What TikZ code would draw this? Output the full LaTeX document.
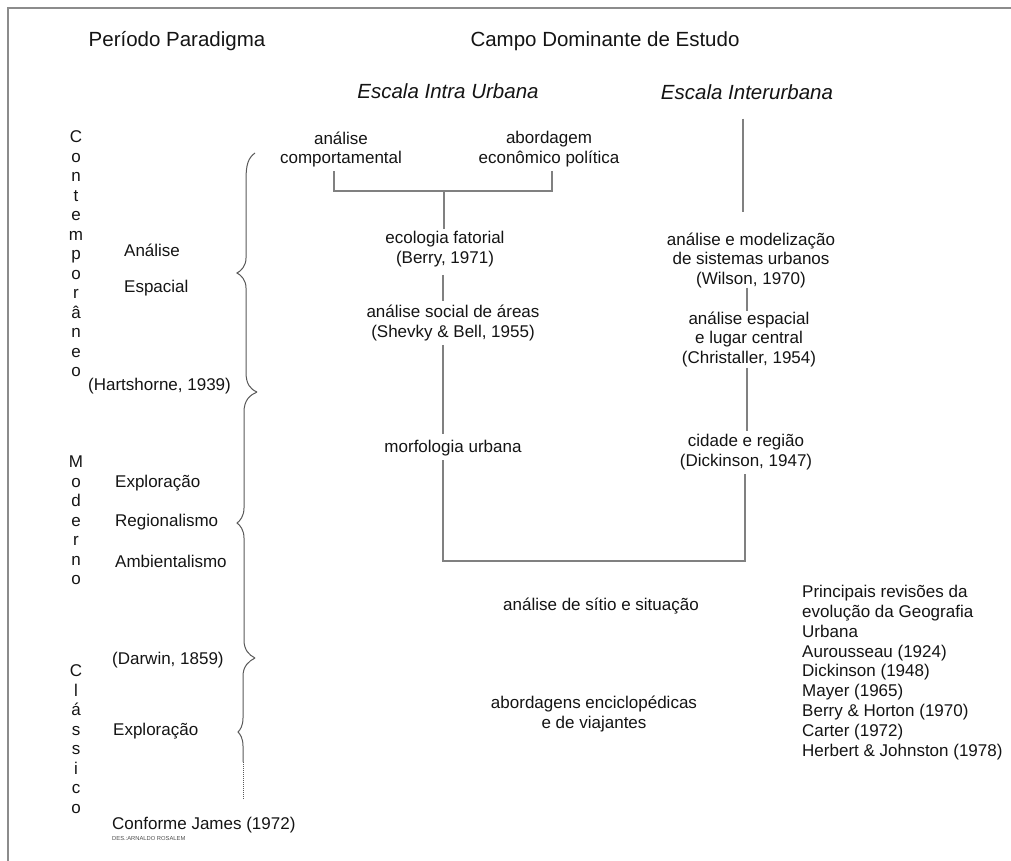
\documentclass[tikz,border=0pt]{standalone}
\usepackage{fontspec}
\setmainfont{Liberation Sans}
\begin{document}
\begin{tikzpicture}[x=1pt,y=-1pt,
  txt/.style={inner sep=0pt, font=\fontsize{17}{19.5}\selectfont, align=center, text=black!92},
  head/.style={inner sep=0pt, font=\fontsize{20.5}{24}\selectfont, text=black!92},
  ihead/.style={inner sep=0pt, font=\fontsize{20.5}{24}\selectfont\itshape, text=black!92},
  vert/.style={inner sep=0pt, font=\fontsize{17}{19.5}\selectfont, align=center, text=black!92},
  lbl/.style={inner sep=0pt, font=\fontsize{17}{19.5}\selectfont, anchor=west, text=black!92},
  conn/.style={draw=black!50, line width=1.3pt},
  brc/.style={draw=black!65, line width=1pt},
  frameline/.style={draw=black!45, line width=2pt}]
\useasboundingbox (0,0) rectangle (1011,861);
% frame
\draw[frameline] (8,861) -- (8,8) -- (1011,8);

% headings
\node[head] (pp) at (177,41) {Período Paradigma};
\node[head] (cde) at (605,41) {Campo Dominante de Estudo};
\node[ihead] (eiu) at (448,91) {Escala Intra Urbana};
\node[ihead] (eint) at (747,92) {Escala Interurbana};

% left column: periods
\node[vert] (cont) at (76,254) {C\\o\\n\\t\\e\\m\\p\\o\\r\\â\\n\\e\\o};
\node[vert] (mod) at (76,520.5) {M\\o\\d\\e\\r\\n\\o};
\node[vert] (cla) at (76,739) {C\\l\\á\\s\\s\\i\\c\\o};

\node[lbl] (an) at (124,250) {Análise};
\node[lbl] (esp) at (124,288) {Espacial};
\node[lbl] (hart) at (88,386) {(Hartshorne, 1939)};
\node[lbl] (exp1) at (115,483) {Exploração};
\node[lbl] (reg) at (115,522) {Regionalismo};
\node[lbl] (amb) at (115,561) {Ambientalismo};
\node[lbl] (dar) at (112,660) {(Darwin, 1859)};
\node[lbl] (exp2) at (113,731) {Exploração};
\node[lbl] (conf) at (112,825) {Conforme James (1972)};
\node[inner sep=0pt, anchor=west, font=\fontsize{5.8}{7}\selectfont, text=black!70] (des) at (112,838) {DES.:ARNALDO ROSALEM};

% braces
\draw[brc] (255,153) .. controls (248,158) and (246,165) .. (246,180) -- (246,258)
  .. controls (246,266) and (241,271) .. (237,273)
  .. controls (241,275) and (246,280) .. (246,288) -- (246,372)
  .. controls (246,384) and (250,389) .. (257,392);
\draw[brc] (257,392) .. controls (250,395) and (244,400) .. (244,412) -- (244,508)
  .. controls (244,516) and (240,521) .. (237,523)
  .. controls (240,525) and (244,530) .. (244,538) -- (244,640)
  .. controls (244,650) and (249,655) .. (255,658);
\draw[brc] (255,658) .. controls (249,661) and (243,666) .. (243,676) -- (243,718)
  .. controls (243,726) and (240,730) .. (238,732)
  .. controls (240,734) and (243,738) .. (243,746) -- (243,762);
\draw[brc, densely dotted, line width=0.8pt] (243,762) -- (243,800);

% intra-urban column
\node[txt] (ac) at (341,149.5) {análise\\comportamental};
\node[txt] (aep) at (549,149) {abordagem\\econômico política};
\node[txt] (ef) at (445,249) {ecologia fatorial\\(Berry, 1971)};
\node[txt] (asa) at (453,323) {análise social de áreas\\(Shevky \& Bell, 1955)};
\node[txt] (mu) at (453,448) {morfologia urbana};

% inter-urban column
\node[txt] (ams) at (751,260) {análise e modelização\\de sistemas urbanos\\(Wilson, 1970)};
\node[txt] (ael) at (749,339) {análise espacial\\e lugar central\\(Christaller, 1954)};
\node[txt] (cr) at (746,452) {cidade e região\\(Dickinson, 1947)};

% lower
\node[txt] (ass) at (601,606) {análise de sítio e situação};
\node[txt] (aev) at (594,714) {abordagens enciclopédicas\\e de viajantes};
\node[inner sep=0pt, font=\fontsize{17}{19.9}\selectfont, align=left, anchor=west, text=black!92] (rev) at (802,672.5)
  {Principais revisões da\\evolução da Geografia\\Urbana\\Aurousseau (1924)\\Dickinson (1948)\\Mayer (1965)\\Berry \& Horton (1970)\\Carter (1972)\\Herbert \& Johnston (1978)};

% connectors
\coordinate (jt) at (444,191);
\draw[conn] ([xshift=-7pt,yshift=-4pt]ac.south) |- (jt) -| ([xshift=3pt,yshift=-4pt]aep.south);
\draw[conn] (jt) -- ([xshift=-1pt,yshift=2pt]ef.north);
\draw[conn] ([xshift=-2pt,yshift=-8pt]ef.south) -- ([xshift=-2pt,yshift=4pt]ef.south |- asa.north);
\draw[conn] ([xshift=-10pt,yshift=-4pt]asa.south) -- ([xshift=-10pt,yshift=6pt]mu.north);
\coordinate (jb) at (443,561);
\draw[conn] ([xshift=-10pt,yshift=-4pt]mu.south) -- (jb) -| ([xshift=-1pt,yshift=-4pt]cr.south);
\draw[conn] ([xshift=-4pt,yshift=-19pt]eint.south) -- ([xshift=-8pt,yshift=20pt]ams.north);
\draw[conn] ([xshift=-4pt,yshift=0pt]ams.south) -- ([xshift=-2pt,yshift=0pt]ael.north);
\draw[conn] ([xshift=-2pt,yshift=-1pt]ael.south) -- ([xshift=1pt,yshift=3pt]cr.north);
\end{tikzpicture}
\end{document}
